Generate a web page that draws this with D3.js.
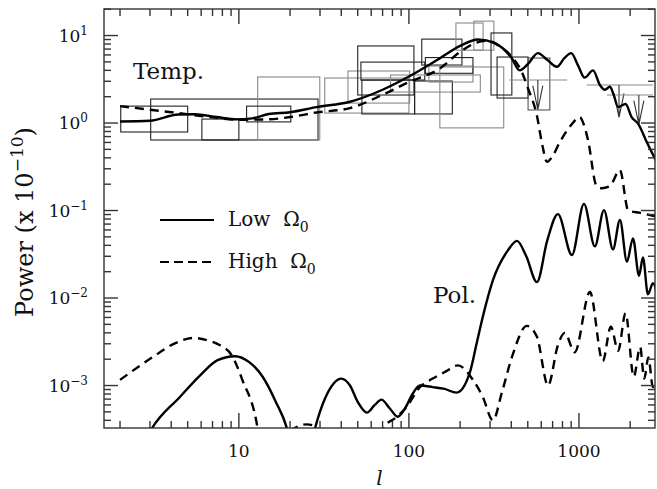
<!DOCTYPE html>
<html lang="en">
<head>
<meta charset="UTF-8">
<title>CMB power spectra</title>
<script src="https://d3js.org/d3.v7.min.js"></script>
<style>
  body { margin: 0; background: #fff; }
  text { font-family: "DejaVu Serif", "Liberation Serif", serif; fill: #111; }
</style>
</head>
<body>
<svg width="657" height="489"></svg>
<script>
// Temperature spectra, [l, power]
const tempLow = [[2,1.04],[3,1.06],[4.4,1.25],[5.5,1.26],[7.4,1.17],[9.7,1.1],[12,1.13],[15,1.27],[20,1.33],[28.6,1.52],[45,1.75],[70,2.4],[100,3.4],[150,5.4],[200,7.6],[255,9.0],[320,8.2],[400,5.6],[448,4.0],[500,4.7],[573,6.3],[650,5.3],[742,4.4],[820,5.5],[900,6.3],[990,4.5],[1080,3.3],[1210,4.0],[1330,2.7],[1420,2.4],[1520,2.6],[1600,2.1],[1700,1.52],[1880,1.65],[2040,1.17],[2230,0.98],[2520,0.59],[2880,0.35]];
const tempHigh = [[2,1.56],[3,1.42],[4.4,1.3],[6.7,1.17],[10,1.09],[14.6,1.1],[20,1.17],[28.6,1.32],[45,1.48],[70,2.1],[100,2.94],[152,4.2],[200,6.5],[250,8.3],[290,8.7],[340,7.6],[403,5.7],[462,3.8],[501,2.5],[565,1.23],[610,0.55],[648,0.36],[700,0.42],[770,0.6],[900,0.95],[1010,1.17],[1070,0.95],[1130,0.64],[1270,0.19],[1360,0.18],[1520,0.19],[1740,0.29],[1950,0.1],[2290,0.094],[2880,0.085]];

// Polarization spectra, [l, power]
const polLow = [[2.7,2.0e-4],[3.07,3.2e-4],[4.5,7.4e-4],[5.9,1.3e-3],[7.5,1.95e-3],[9.5,2.16e-3],[11.5,1.85e-3],[13.8,1.26e-3],[16.5,6.5e-4],[19.2,3.2e-4],[23,5e-5],[28,3.2e-4],[32,7e-4],[36,1.05e-3],[40,1.2e-3],[45,1.0e-3],[50,6.5e-4],[56.6,4.9e-4],[63,6e-4],[69,6.9e-4],[77,5.5e-4],[86,4.4e-4],[95,5.5e-4],[105,8e-4],[116,1.0e-3],[138,9.6e-4],[160,9.2e-4],[191,8.3e-4],[228,1.4e-3],[250,3.0e-3],[272,6.1e-3],[312,1.6e-2],[382,0.035],[432,0.045],[490,0.03],[566,0.0152],[650,0.045],[752,0.091],[909,0.031],[1070,0.119],[1240,0.039],[1403,0.101],[1585,0.036],[1742,0.078],[1915,0.026],[2078,0.048],[2255,0.018],[2378,0.029],[2545,0.011],[2723,0.0148],[2900,0.01]];
const polHigh = [[2,1.16e-3],[3.1,2.1e-3],[4.3,3.1e-3],[5.4,3.5e-3],[6.5,3.3e-3],[7.7,2.9e-3],[9.1,2.2e-3],[10.5,1.15e-3],[12.9,3.2e-4],[14,1e-4],[19,1e-4],[21,3.2e-4],[25,3.6e-4],[29,3.3e-4],[31,1e-4],[62,1e-4],[70,3.2e-4],[85,4.4e-4],[97,5.7e-4],[116,9.6e-4],[138,1.2e-3],[165,1.45e-3],[194,1.7e-3],[238,1.16e-3],[272,7.4e-4],[312,4.0e-4],[352,8.3e-4],[403,2.1e-3],[494,4.8e-3],[566,3.6e-3],[658,1.0e-3],[752,2.9e-3],[825,4.0e-3],[944,2.4e-3],[1160,0.0117],[1380,1.9e-3],[1540,4.7e-3],[1700,2.5e-3],[1880,6.7e-3],[2100,1.26e-3],[2290,2.75e-3],[2420,1.2e-3],[2560,2.1e-3],[2720,9.6e-4],[2900,1.3e-3]];

// Measurement boxes: l range, power range, experiment group
const boxLmin = [2.02, 3.03, 6.06, 12.9, 11.1, 32, 43.8, 50, 52.2, 52.9, 78, 108, 119, 131, 125, 152, 189, 241, 304, 330, 502];
const boxLmax = [5.0, 29.2, 10, 29.9, 20.2, 100, 101, 107, 124, 108, 263, 180, 205, 238, 238, 361, 273, 316, 403, 502, 674];
const boxPmin = [0.79, 0.64, 0.64, 0.64, 1.03, 1.3, 1.69, 2.09, 3.1, 1.27, 2.26, 1.27, 4.6, 2.94, 3.7, 0.88, 6.8, 6.8, 2.09, 1.93, 1.41];
const boxPmax = [1.56, 1.88, 1.11, 3.36, 1.56, 3.27, 3.93, 7.6, 4.97, 3.1, 3.54, 3.02, 9.1, 4.48, 5.6, 4.37, 13.9, 14.6, 10.7, 5.68, 5.53];
const boxGroup = ["a", "a", "a", "b", "a", "b", "b", "a", "a", "a", "b", "a", "a", "b", "a", "b", "b", "b", "a", "a", "c"];

// Upper limits: bar l range, bar power, arrow l, arrow tip power
const limLmin = [389, 1110, 1460];
const limLmax = [852, 2720, 2720];
const limP = [3.1, 2.72, 2.09];
const limArrowL = [573, 1720, 2250];
const limArrowTip = [1.42, 1.16, 0.96];

const xMajor = [10, 100, 1000];
const xTickLabels = ["10", "100", "1000"];
const yMajor = [1e-3, 1e-2, 1e-1, 1, 10];
const yTickExp = ["\u22123", "\u22122", "\u22121", "0", "1"];

const legendNames = ["Low", "High"];

const width = 657, height = 489;
const margin = { top: 9, right: 2, bottom: 61, left: 104 };
const svg = d3.select("svg");

const x = d3.scaleLog().domain([1.61, 2800]).range([margin.left, width - margin.right]);
const y = d3.scaleLog().domain([3.27e-4, 20.1]).range([height - margin.bottom, margin.top]);

// minor ticks from 2..9 in each decade inside the domain
function minors(scale) {
    const [a, b] = scale.domain();
    const out = [];
    for (let e = Math.floor(Math.log10(a)); e <= Math.ceil(Math.log10(b)); e++) {
        for (let k = 2; k <= 9; k++) {
            const v = k * Math.pow(10, e);
            if (v > a && v < b) out.push(v);
        }
    }
    return out;
}

svg.append("clipPath").attr("id", "plot")
    .append("rect")
    .attr("x", margin.left).attr("y", margin.top)
    .attr("width", width - margin.left - margin.right)
    .attr("height", height - margin.top - margin.bottom);

// boxes
const boxColor = { a: "#222", b: "#8a8a8a", c: "#555" };
const plot = svg.append("g").attr("clip-path", "url(#plot)");
plot.selectAll("rect.box")
    .data(boxLmin.map((d, i) => i))
    .join("rect")
    .attr("class", "box")
    .attr("x", i => x(boxLmin[i]))
    .attr("y", i => y(boxPmax[i]))
    .attr("width", i => x(boxLmax[i]) - x(boxLmin[i]))
    .attr("height", i => y(boxPmin[i]) - y(boxPmax[i]))
    .attr("fill", "none")
    .attr("stroke", i => boxColor[boxGroup[i]])
    .attr("stroke-width", 1.1);

// upper limits
limP.forEach((p, i) => {
    plot.append("line")
        .attr("x1", x(limLmin[i])).attr("x2", x(limLmax[i]))
        .attr("y1", y(p)).attr("y2", y(p))
        .attr("stroke", "#8a8a8a").attr("stroke-width", 1.1);
    const ax = x(limArrowL[i]), ay = y(limArrowTip[i]);
    plot.append("path")
        .attr("d", `M${ax},${y(p)}V${ay}M${ax - 5},${ay - 24}L${ax},${ay}L${ax + 5},${ay - 24}`)
        .attr("fill", "none").attr("stroke", "#333").attr("stroke-width", 1.1);
});

// curves
const line = d3.line()
    .x(d => x(d[0]))
    .y(d => y(d[1]))
    .curve(d3.curveMonotoneX);

[[tempLow, false], [tempHigh, true], [polLow, false], [polHigh, true]].forEach(([data, dashed]) => {
    plot.append("path")
        .datum(data)
        .attr("fill", "none")
        .attr("stroke", "#000")
        .attr("stroke-width", 2.4)
        .attr("stroke-dasharray", dashed ? "9,6" : null)
        .attr("d", line);
});

// frame and inward ticks on all four sides
const x0 = margin.left, x1 = width - margin.right, y0 = margin.top, y1 = height - margin.bottom;
const axes = svg.append("g").attr("stroke", "#333").attr("stroke-width", 1.4).attr("fill", "none");
axes.append("rect").attr("x", x0).attr("y", y0).attr("width", x1 - x0).attr("height", y1 - y0);

function ticksX(vals, len) {
    vals.forEach(v => {
        axes.append("line").attr("x1", x(v)).attr("x2", x(v)).attr("y1", y1).attr("y2", y1 - len);
        axes.append("line").attr("x1", x(v)).attr("x2", x(v)).attr("y1", y0).attr("y2", y0 + len);
    });
}
function ticksY(vals, len) {
    vals.forEach(v => {
        axes.append("line").attr("y1", y(v)).attr("y2", y(v)).attr("x1", x0).attr("x2", x0 + len);
        axes.append("line").attr("y1", y(v)).attr("y2", y(v)).attr("x1", x1).attr("x2", x1 - len);
    });
}
ticksX(xMajor, 15);
ticksX(minors(x), 7);
ticksY(yMajor, 14);
ticksY(minors(y), 7);

// tick labels
svg.selectAll("text.xl")
    .data(xMajor)
    .join("text")
    .attr("class", "xl")
    .attr("x", d => x(d))
    .attr("y", y1 + 29)
    .attr("text-anchor", "middle")
    .style("font-size", "17px")
    .text((d, i) => xTickLabels[i]);

const yl = svg.selectAll("text.yl")
    .data(yMajor)
    .join("text")
    .attr("class", "yl")
    .attr("x", x0 - 16)
    .attr("y", d => y(d) + 6)
    .attr("text-anchor", "end")
    .style("font-size", "17px");
yl.append("tspan").text("10");
yl.append("tspan").attr("dy", -7).style("font-size", "12px").text((d, i) => yTickExp[i]);

// axis titles
svg.append("text")
    .attr("x", (x0 + x1) / 2)
    .attr("y", height - 4)
    .attr("text-anchor", "middle")
    .style("font-size", "20px")
    .style("font-style", "italic")
    .text("l");

const yt = svg.append("text")
    .attr("transform", `translate(33,222) rotate(-90)`)
    .attr("text-anchor", "middle")
    .style("font-size", "24px");
yt.append("tspan").text("Power (x 10");
yt.append("tspan").attr("dy", -10).style("font-size", "17px").text("\u221210");
yt.append("tspan").attr("dy", 10).text(")");

// panel labels
svg.append("text").attr("x", 133).attr("y", 79).style("font-size", "23px").text("Temp.");
svg.append("text").attr("x", 433).attr("y", 303).style("font-size", "23px").text("Pol.");

// legend
legendNames.forEach((name, i) => {
    const ly = 220 + i * 42;
    svg.append("line")
        .attr("x1", 160).attr("x2", 214)
        .attr("y1", ly).attr("y2", ly)
        .attr("stroke", "#000").attr("stroke-width", 2)
        .attr("stroke-dasharray", i === 1 ? "9,5" : null);
    const t = svg.append("text")
        .attr("x", 228).attr("y", ly + 6)
        .style("font-size", "20px")
        .attr("xml:space", "preserve");
    t.append("tspan").text(name + "  \u03A9");
    t.append("tspan").attr("dy", 6).style("font-size", "14px").text("0");
});
</script>
</body>
</html>
